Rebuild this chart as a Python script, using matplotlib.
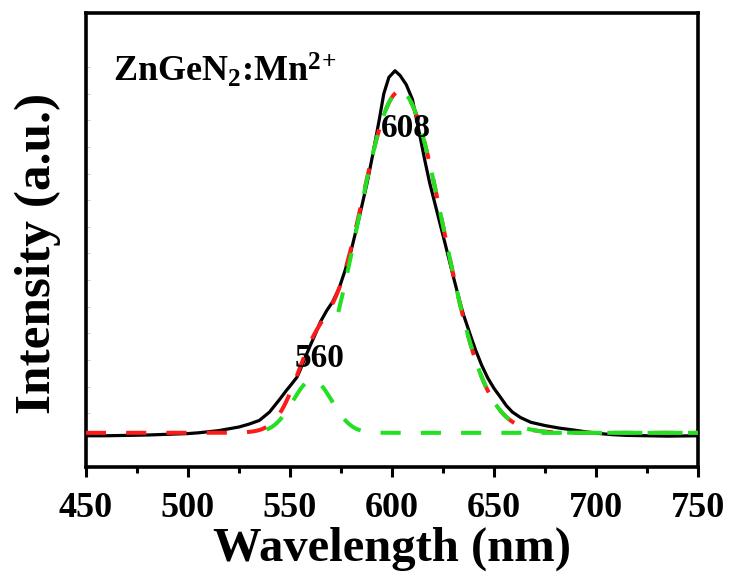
import matplotlib.pyplot as plt
import numpy as np
from matplotlib.ticker import MultipleLocator

plt.rcParams['font.family'] = 'Liberation Serif'
plt.rcParams['font.weight'] = 'bold'
plt.rcParams['axes.labelweight'] = 'bold'
plt.rcParams['mathtext.fontset'] = 'custom'
plt.rcParams['mathtext.rm'] = 'Liberation Serif:bold'
plt.rcParams['mathtext.bf'] = 'Liberation Serif:bold'
plt.rcParams['mathtext.it'] = 'Liberation Serif:bold'

# -------------------------------
# Measured emission spectrum (read off the figure)
# -------------------------------
wavelength = [450, 460, 470, 480, 490, 500, 505, 510, 515, 520, 525, 530, 535,
              540, 545, 548.5, 550, 553.5, 555, 557, 560, 562, 565, 568, 571,
              574, 577, 580, 584, 588, 591, 594, 596, 598.5, 601.5, 604, 607,
              610, 613.5, 616, 618.5, 621, 623.5, 626, 628, 630, 633, 635, 638,
              641, 644, 647, 650, 653, 656, 659, 663, 668, 675, 682, 690, 696,
              702, 708, 715, 725, 735, 750]
intensity = [-0.008, -0.008, -0.007, -0.006, -0.004, -0.002, 0.000, 0.003,
             0.006, 0.011, 0.016, 0.024, 0.034, 0.057, 0.092, 0.118, 0.128,
             0.153, 0.172, 0.200, 0.240, 0.265, 0.305, 0.335, 0.360, 0.395,
             0.445, 0.500, 0.592, 0.690, 0.775, 0.866, 0.930, 0.975, 0.993,
             0.980, 0.955, 0.915, 0.820, 0.750, 0.685, 0.630, 0.575, 0.520,
             0.475, 0.430, 0.365, 0.325, 0.275, 0.227, 0.185, 0.150, 0.122,
             0.099, 0.075, 0.057, 0.042, 0.029, 0.020, 0.013, 0.007, 0.002,
             -0.002, -0.005, -0.007, -0.008, -0.009, -0.008]

# Gaussian fit components (center nm, height, sigma nm, first plotted nm)
peak_centers = [561, 604]
peak_heights = [0.145, 0.937]
peak_sigmas = [9.5, 21.0]
peak_starts = [535, 572]
peak_labels = ["560", "608"]

# -------------------------------
# Figure
# -------------------------------
fig, ax = plt.subplots(figsize=(7.34, 5.72), dpi=100)
plt.subplots_adjust(left=0.117, right=0.951, top=0.977, bottom=0.184)
ax.set_xlim(450, 750)
ax.set_ylim(-0.093, 1.151)

x = np.linspace(450, 750, 601)
comps = [h * np.exp(-(x - c) ** 2 / (2 * s ** 2))
         for c, h, s in zip(peak_centers, peak_heights, peak_sigmas)]
total = np.sum(comps, axis=0)

lw_fit = 2.9
# path length of the red curve (in line-width units) -> green dashes fill its gaps
pts = ax.transData.transform(np.column_stack([x, total]))
cum = np.concatenate([[0], np.cumsum(np.hypot(*np.diff(pts, axis=0).T))])
cum = cum * 72 / fig.dpi / lw_fit

ax.plot(wavelength, intensity, color="black", lw=2.3, zorder=2)
ax.plot(x, total, color="#ff1a1a", lw=lw_fit, linestyle=(0, (5, 5)), zorder=3)
for comp, start in zip(comps, peak_starts):
    m = x >= start
    i0 = np.argmax(m)
    off = (cum[i0] + 5) % 10
    ax.plot(x[m], comp[m], color="#22e022", lw=lw_fit, linestyle=(off, (5, 5)), zorder=4)

# labels
ax.text(564.5, 0.205, peak_labels[0], fontsize=24, ha="center", va="center", zorder=5)
ax.text(607, 0.835, peak_labels[1], fontsize=24, ha="center", va="center", zorder=5)
ax.text(0.044, 0.848, r"$\mathbf{ZnGeN_2}$:$\mathbf{Mn^{2\!+}}$", transform=ax.transAxes,
        fontsize=26, ha="left", va="baseline")

# axes formatting
ax.xaxis.set_major_locator(MultipleLocator(50))
ax.xaxis.set_minor_locator(MultipleLocator(25))
ax.tick_params(axis="x", which="major", direction="out", length=7, width=2.2,
               labelsize=26, pad=11)
ax.tick_params(axis="x", which="minor", direction="out", length=4, width=2.2)
ax.set_yticks(1.003 - 0.073 * np.arange(14))
ax.set_yticklabels([])
ax.tick_params(axis="y", which="major", direction="in", length=3, width=0.8,
               color="#cccccc")
ax.tick_params(axis="y", which="minor", left=False)
for sp in ax.spines.values():
    sp.set_linewidth(2.6)

ax.set_xlabel("Wavelength (nm)", fontsize=35, fontweight="bold", labelpad=1)
ax.set_ylabel("Intensity (a.u.)", fontsize=37, fontweight="bold")
ax.yaxis.set_label_coords(-0.04, 0.47)

plt.savefig("out.png", dpi=100)
